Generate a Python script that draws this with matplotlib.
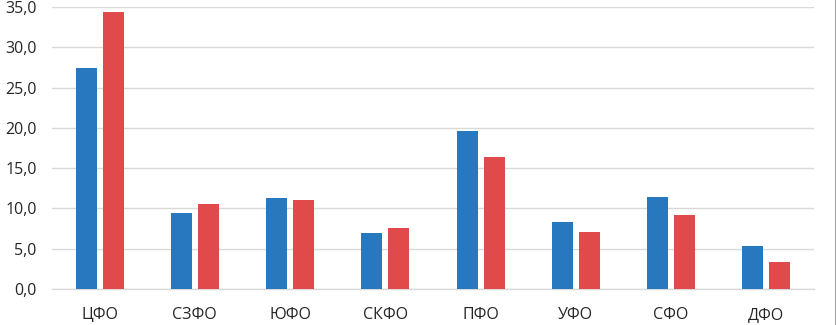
import numpy as np
import matplotlib.pyplot as plt
from matplotlib.lines import Line2D

categories = ['ЦФО', 'СЗФО', 'ЮФО', 'СКФО', 'ПФО', 'УФО', 'СФО', 'ДФО']
blue_vals = [27.4, 9.4, 11.3, 6.9, 19.6, 8.3, 11.4, 5.3]
red_vals = [34.4, 10.6, 11.0, 7.6, 16.4, 7.1, 9.2, 3.3]

plt.rcParams['font.family'] = ['Open Sans', 'DejaVu Sans']

fig = plt.figure(figsize=(8.37, 3.25), dpi=100)
ax = fig.add_axes([0.0621, 0.1108, 0.9104, 0.8677])

x = np.arange(len(categories))
w = 0.22
ax.bar(x - 0.142, blue_vals, w, color='#2878c0', zorder=3)
ax.bar(x + 0.142, red_vals, w, color='#e04a4a', zorder=3)

ax.set_xlim(-0.5, len(categories) - 0.5)
ax.set_ylim(0, 35)
ax.set_yticks(np.arange(0, 36, 5))
ax.set_yticklabels([f'{v:.1f}'.replace('.', ',') for v in np.arange(0, 36, 5)])
ax.set_xticks(x)
ax.set_xticklabels(categories)

ax.grid(axis='y', color='#d9d9d9', linewidth=1, zorder=0)
for s in ['top', 'right', 'left']:
    ax.spines[s].set_visible(False)
ax.spines['bottom'].set_color('#d9d9d9')
ax.spines['bottom'].set_linewidth(1)
ax.tick_params(axis='both', length=0, labelsize=11.5, colors='#262626')
ax.tick_params(axis='y', pad=11)
ax.tick_params(axis='x', pad=13)

fig.add_artist(Line2D([0.9985, 0.9985], [0, 1], color='#a6a6a6', linewidth=1.5,
                      transform=fig.transFigure))

fig.savefig('out.png', dpi=100)
